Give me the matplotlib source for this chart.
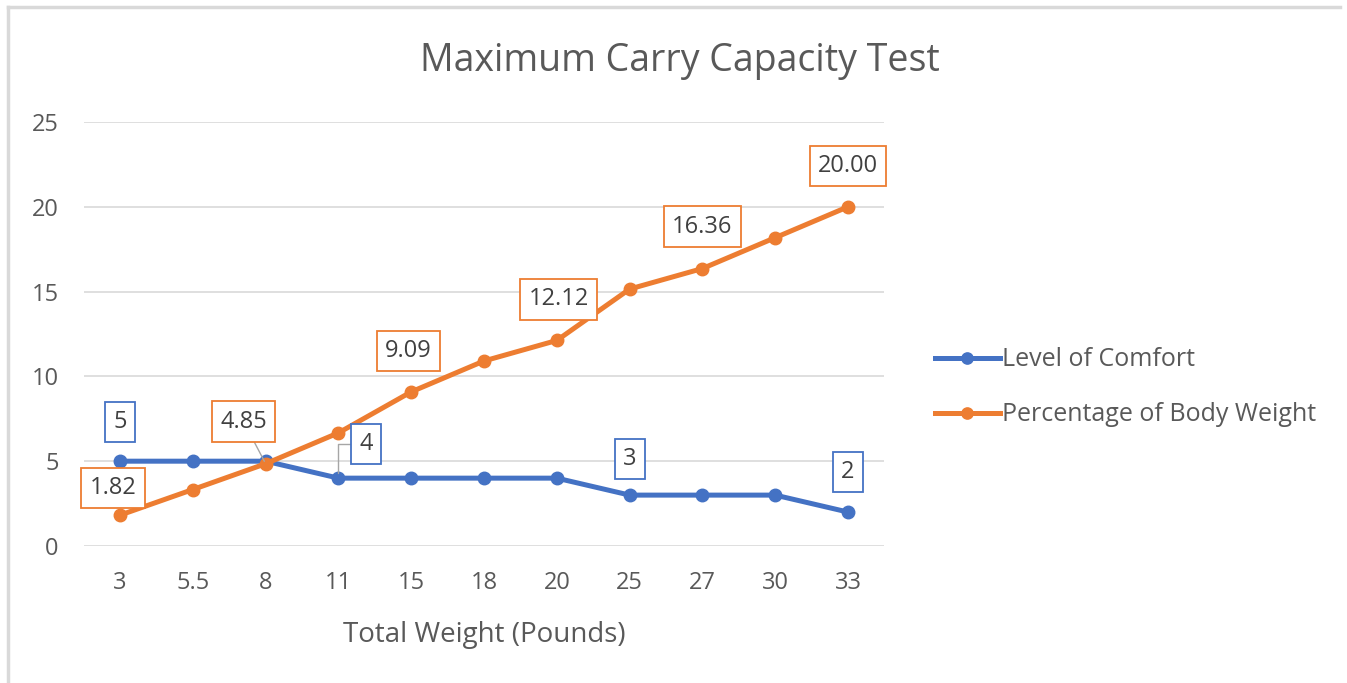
import matplotlib.pyplot as plt
from matplotlib.lines import Line2D

plt.rcParams['font.family'] = ['Open Sans', 'DejaVu Sans']

# Data
weights = ['3', '5.5', '8', '11', '15', '18', '20', '25', '27', '30', '33']
comfort = [5, 5, 5, 4, 4, 4, 4, 3, 3, 3, 2]
pct_body = [1.82, 3.33, 4.85, 6.67, 9.09, 10.91, 12.12, 15.15, 16.36, 18.18, 20.00]

# which points carry a data label, and the label box offset (pixels)
comfort_labels = {0: (0, 39), 3: (28, 34), 7: (0, 36), 10: (0, 40)}
pct_labels = {0: (-7, 27), 2: (-22, 42), 4: (-3, 41), 6: (2, 41),
              8: (0, 42), 10: (0, 41)}

blue = '#4472C4'
orange = '#ED7D31'
gray_txt = '#595959'

fig = plt.figure(figsize=(13.47, 6.83), dpi=100)
ax = fig.add_axes([0.0621, 0.2006, 0.5945, 0.6208])

x = list(range(len(weights)))
ax.plot(x, comfort, color=blue, lw=3.6, marker='o', ms=9, label='Level of Comfort', zorder=3)
ax.plot(x, pct_body, color=orange, lw=3.6, marker='o', ms=9, label='Percentage of Body Weight', zorder=3)

ax.set_xlim(-0.5, len(weights) - 0.5)
ax.set_ylim(0, 25)
ax.set_yticks([0, 5, 10, 15, 20, 25])
ax.set_xticks(x)
ax.set_xticklabels(weights)
ax.grid(axis='y', color='#D9D9D9', lw=1.2)
ax.set_axisbelow(True)
for s in ax.spines.values():
    s.set_visible(False)
ax.tick_params(length=0, labelsize=17, colors=gray_txt)
ax.tick_params(axis='y', pad=18)
ax.tick_params(axis='x', pad=18)
ax.set_xlabel('Total Weight (Pounds)', fontsize=20, color=gray_txt, labelpad=19)

fig.suptitle('Maximum Carry Capacity Test', x=0.505, y=0.938, fontsize=27, color=gray_txt)


def label(i, vals, text, off, col):
    dx, dy = off
    arrow = None
    if i == 3 and col == blue:
        arrow = dict(arrowstyle='-', color='#A6A6A6', lw=1,
                     connectionstyle='angle,angleA=0,angleB=90,rad=0', shrinkA=0, shrinkB=4)
    elif i == 2 and col == orange:
        arrow = dict(arrowstyle='-', color='#A6A6A6', lw=1, shrinkA=0, shrinkB=2)
    ax.annotate(text, (i, vals[i]), xytext=(dx * 0.72, dy * 0.72), textcoords='offset points',
                ha='center', va='center', fontsize=17, color='#404040',
                bbox=dict(boxstyle='square,pad=0.35', fc='white', ec=col, lw=1.3),
                arrowprops=arrow, zorder=5)


for i, off in comfort_labels.items():
    label(i, comfort, str(comfort[i]), off, blue)
for i, off in pct_labels.items():
    label(i, pct_body, f'{pct_body[i]:.2f}', off, orange)

ax.legend(loc='center left', bbox_to_anchor=(1.035, 0.374), frameon=False,
          fontsize=18, labelcolor=gray_txt, handlelength=2.6, handletextpad=0.1,
          labelspacing=1.2, markerscale=0.9)

# light frame around the chart (top and left edges)
fig.add_artist(Line2D([8 / 1347, 1340 / 1347], [1 - 7 / 683, 1 - 7 / 683], color='#D9D9D9', lw=2.5))
fig.add_artist(Line2D([8 / 1347, 8 / 1347], [0, 1 - 7 / 683], color='#D9D9D9', lw=2.5))

fig.savefig('out.png', dpi=100, facecolor='white')
